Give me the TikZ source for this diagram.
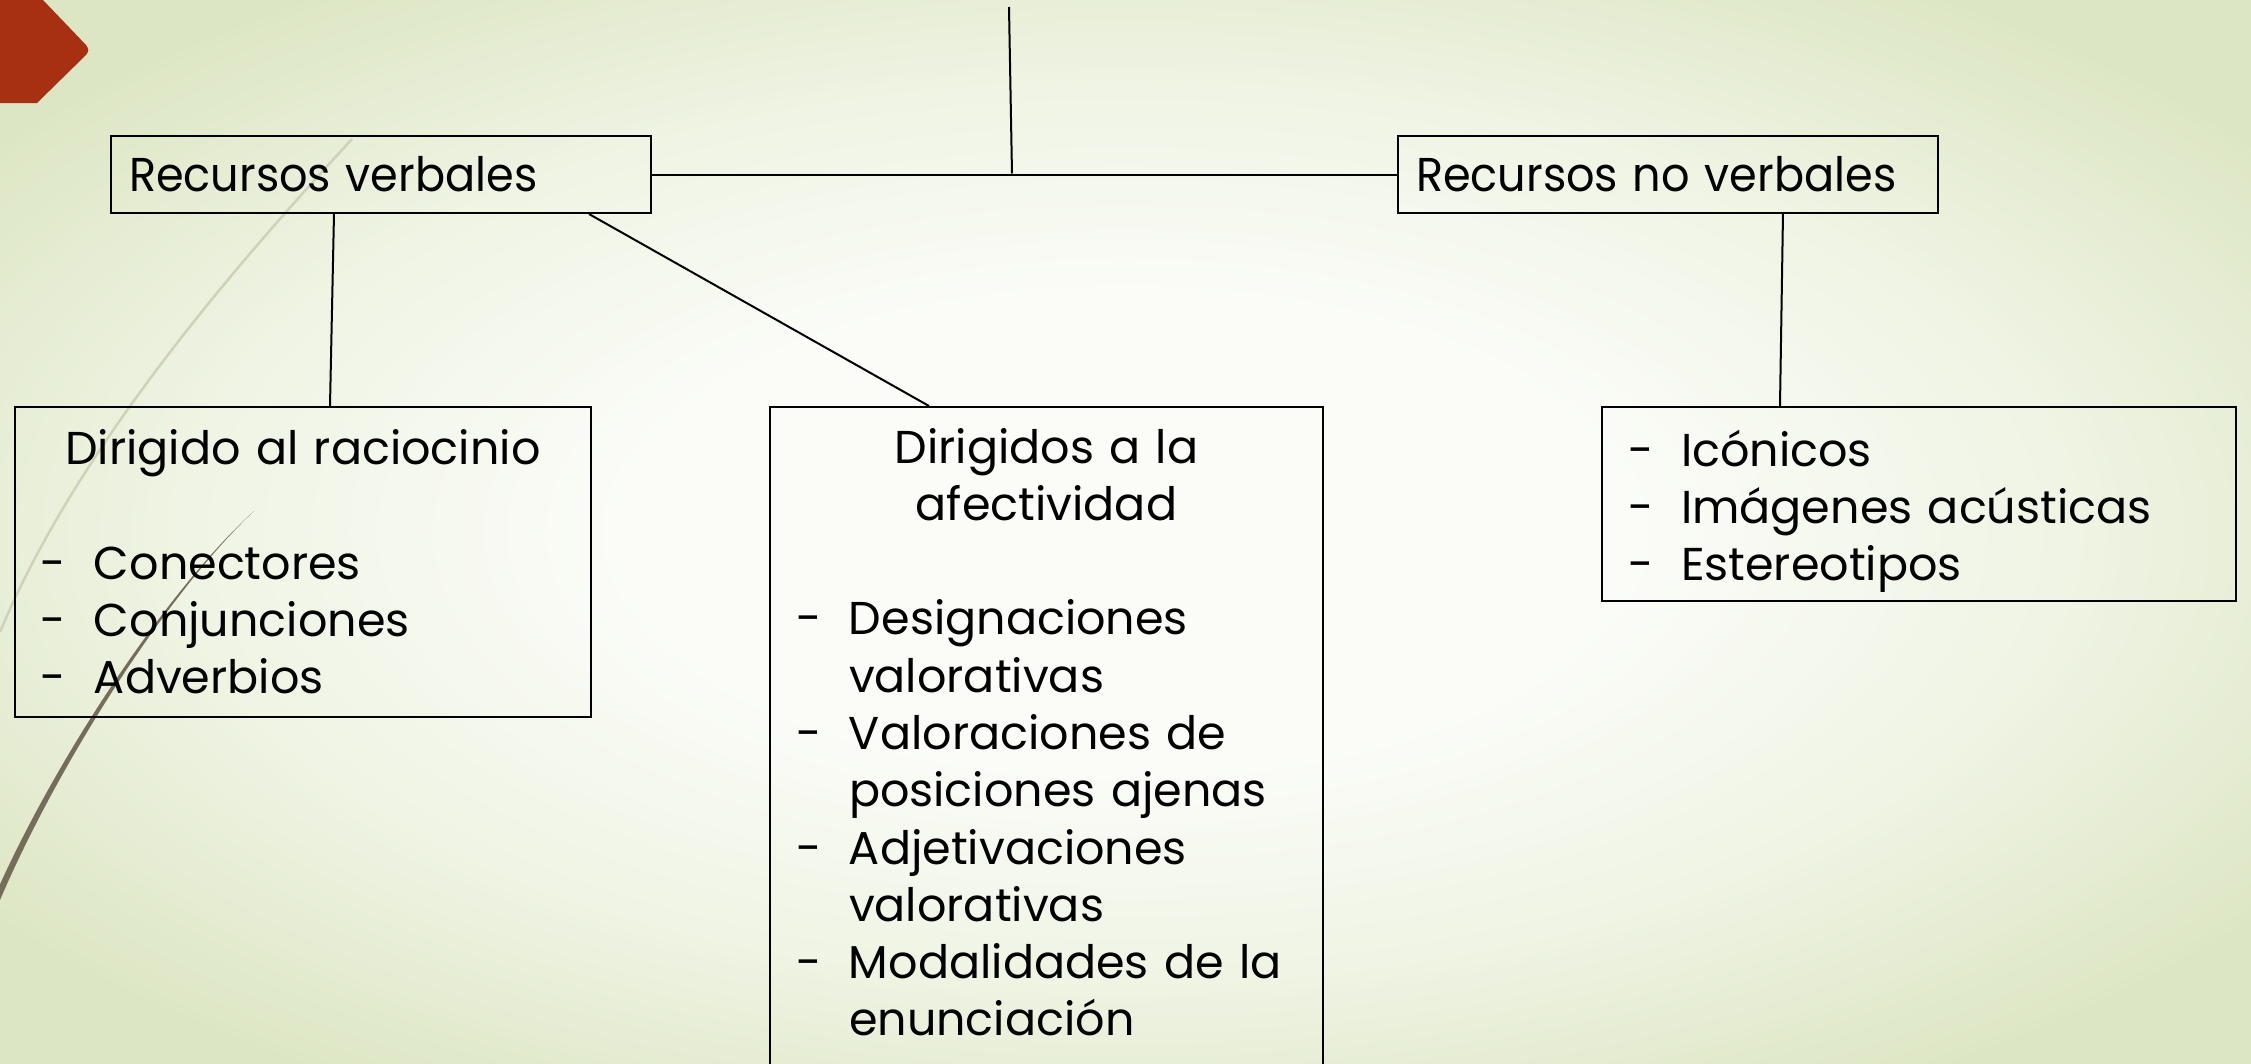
\documentclass[tikz,border=0pt]{standalone}
\usepackage{fontspec}
\setmainfont{Poppins}
\usetikzlibrary{positioning}
\definecolor{fondoin}{HTML}{FBFCF8}
\definecolor{fondomid}{HTML}{EFF4E4}
\definecolor{fondoout}{HTML}{DDE6C4}
\definecolor{rojizo}{HTML}{A83012}
\definecolor{trazo}{HTML}{766C5C}
\definecolor{trazoclaro}{HTML}{D0D2B8}
\pgfdeclareradialshading{fondo}{\pgfpoint{0bp}{0bp}}{color(0bp)=(fondoin); color(11bp)=(fondoin);
  color(21bp)=(fondomid); color(31bp)=(fondoout); color(50bp)=(fondoout)}
\newcommand{\guion}[1]{\makebox[5.3mm][l]{-}#1}
\newcommand{\sigue}[1]{\hspace*{5.3mm}#1}
\newcommand{\centro}[1]{\makebox[\hsize]{#1}}
\newcommand{\angosto}[1]{\scalebox{0.94}[1]{#1}}

\begin{document}
\begin{tikzpicture}[x=0.1mm,y=-0.1mm,
  caja/.style={draw,line width=0.2mm,anchor=north west,inner xsep=2.6mm,inner ysep=0pt,
    align=left,font=\fontsize{13.1}{16.3}\selectfont},
  tope/.style={caja,minimum height=7.7mm,inner xsep=1.8mm,text width=50.4mm,font=\fontsize{13.5}{16.3}\selectfont},
  enlace/.style={line width=0.2mm}]
\useasboundingbox (0,0) rectangle (2251,1064);
\shade[shading=fondo] (0,0) rectangle (2251,1064);
% adornos
\fill[rojizo] (0,0) -- (43,0) -- (86,45) .. controls (89,49) and (89,51) .. (86,55) -- (37,103) -- (0,103) -- cycle;
\draw[trazoclaro,line width=0.25mm] (352,139) .. controls (250,250) and (80,440) .. (0,632);
\fill[trazo] (254,511) .. controls (170,590) and (60,760) .. (0,900) -- (-7,900)
  .. controls (54,760) and (167,590) .. (254,511) -- cycle;

\node[tope] (verbales) at (110,135) {\angosto{Recursos verbales}};
\node[tope] (noverbales) at (1397,135) {\angosto{Recursos no verbales}};
\node[caja,text width=52.4mm,minimum height=31mm] (raciocinio) at (14,406)
  {\centro{Dirigido al raciocinio}\\ \mbox{}\\
   \guion{Conectores}\\ \guion{Conjunciones}\\ \guion{Adverbios}};
\node[caja,text width=50.1mm,inner ysep=2.1mm] (afectividad) at (769,406)
  {\centro{Dirigidos a la}\\ \centro{afectividad}\\ \mbox{}\\
   \guion{Designaciones}\\ \sigue{valorativas}\\
   \guion{Valoraciones de}\\ \sigue{posiciones ajenas}\\
   \guion{Adjetivaciones}\\ \sigue{valorativas}\\
   \guion{Modalidades de la}\\ \sigue{enunciación}\\ \mbox{}\\ \mbox{}};
\node[caja,text width=58.2mm,minimum height=19.4mm] (nolist) at (1601,406)
  {\rule{0pt}{5.1mm}\guion{Icónicos}\\ \guion{Imágenes acústicas}\\ \guion{Estereotipos}};

\coordinate (arriba) at (1009,7);
\coordinate (cruce) at (1012,173.5);
\draw[enlace] (arriba) -- (cruce);
\draw[enlace] (verbales.east) -- (noverbales.west);
\draw[enlace] ([xshift=22.4mm]verbales.south west) -- ([xshift=31.6mm]raciocinio.north west);
\draw[enlace] ([xshift=47.9mm]verbales.south west) -- ([xshift=16mm]afectividad.north west);
\draw[enlace] ([xshift=38.6mm]noverbales.south west) -- ([xshift=17.9mm]nolist.north west);
\end{tikzpicture}
\end{document}
